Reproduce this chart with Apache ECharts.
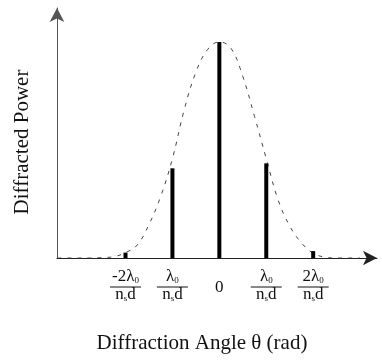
<!DOCTYPE html>
<html><head><meta charset="utf-8">
<script src="https://cdn.jsdelivr.net/npm/echarts@6/dist/echarts.min.js"></script>
<style>html,body{margin:0;padding:0;background:#fff}#c{width:382px;height:360px}</style>
</head><body><div id="c"></div>
<script>
// diffraction orders (units of lambda0 / (n_s d)) and their diffracted power (normalised)
const orders = [-2, -1, 0, 1, 2];
const orderPower = [0.025, 0.415, 1.0, 0.438, 0.032];
// tick label numerators (empty = plain "0")
const tickNumerators = ['-2λ', 'λ', '', 'λ', '2λ'];
const tickDenominator = 'n';
// dashed envelope
const envelopeX = [-3.45, -3.0, -2.75, -2.5, -2.25, -2.0, -1.75, -1.5, -1.25, -1.0, -0.75, -0.5, -0.25, 0, 0.25, 0.5, 0.75, 1.0, 1.25, 1.5, 1.75, 2.0, 2.25, 2.5, 3.0];
const envelopeY = [0, 0, 0, 0.002, 0.006, 0.025, 0.06, 0.155, 0.285, 0.46, 0.685, 0.86, 0.965, 1.0, 0.97, 0.84, 0.655, 0.46, 0.27, 0.148, 0.07, 0.022, 0.004, 0, 0];
const xTitle = 'Diffraction Angle θ (rad)';
const yTitle = 'Diffracted Power';

const FONT = '"Liberation Serif", "DejaVu Serif", serif';
const chart = echarts.init(document.getElementById('c'), null, {renderer: 'canvas'});

chart.setOption({
  animation: false,
  backgroundColor: '#fff',
  grid: {left: 57, right: 5, top: 8, bottom: 102, containLabel: false},
  xAxis: {
    type: 'value', min: -3.46, max: 3.36,
    splitLine: {show: false},
    axisTick: {show: false},
    axisLine: {show: true, onZero: false, symbol: ['none', 'arrow'], symbolSize: [11, 14],
      lineStyle: {color: '#222', width: 1}},
    axisLabel: {
      customValues: orders, margin: 13, color: '#111', fontFamily: FONT, fontSize: 17,
      formatter: function (v) {
        const i = orders.indexOf(Math.round(v));
        if (i < 0) return '';
        const n = tickNumerators[i];
        if (!n) return '{zero|0}';
        return '{num|' + n + '}{sub|0}\n{bar| }\n{num|' + tickDenominator + '}{sub|s}{num|d}';
      },
      rich: {
        num: {fontSize: 17, fontFamily: FONT, color: '#111', lineHeight: 14, verticalAlign: 'bottom'},
        sub: {fontSize: 9, fontFamily: FONT, color: '#111', lineHeight: 14, verticalAlign: 'bottom'},
        bar: {fontSize: 1, width: 31, height: 1, lineHeight: 4, backgroundColor: '#111'},
        zero: {fontSize: 17, fontFamily: FONT, color: '#111', padding: [8, 0, 0, 0]}
      }
    },
    name: xTitle, nameLocation: 'middle', nameGap: 75,
    nameTextStyle: {fontFamily: FONT, fontSize: 21, color: '#111', padding: [0, 30, 0, 0]}
  },
  yAxis: {
    type: 'value', min: 0, max: 1.157,
    splitLine: {show: false},
    axisTick: {show: false},
    axisLabel: {show: false},
    axisLine: {show: true, onZero: false, symbol: ['none', 'arrow'], symbolSize: [11, 14],
      lineStyle: {color: '#555', width: 1}},
    name: yTitle, nameLocation: 'middle', nameGap: 24, nameRotate: 90,
    nameTextStyle: {fontFamily: FONT, fontSize: 21, color: '#111', padding: [0, 18, 0, 0]}
  },
  series: [
    {
      type: 'line', smooth: 0.4, symbol: 'none', z: 1,
      data: envelopeX.map((x, i) => [x, envelopeY[i]]),
      lineStyle: {color: '#444', width: 1, type: [4, 6]}
    },
    {
      type: 'bar', barWidth: 4, z: 2,
      data: orders.map((x, i) => [x, orderPower[i]]),
      itemStyle: {color: '#000'}
    }
  ]
});
</script>
</body></html>
